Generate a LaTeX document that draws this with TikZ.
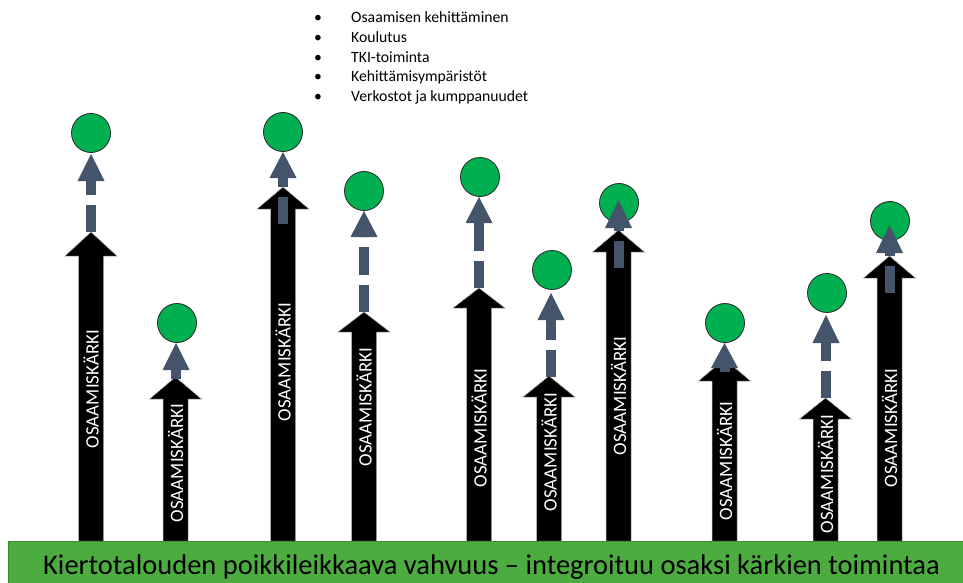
\documentclass[tikz,border=0pt]{standalone}
\usepackage{fontspec}
\setmainfont{Carlito}
\definecolor{barGreen}{RGB}{76,172,64}
\definecolor{barEdge}{RGB}{60,140,50}
\definecolor{dotGreen}{RGB}{0,176,80}
\definecolor{slateArrow}{RGB}{68,84,106}
\tikzset{
  karki/.style={rotate=90, text=white, inner sep=0pt, font=\fontsize{18.9}{20}\selectfont},
  dotnode/.style={circle, fill=dotGreen, draw=black!85, line width=0.8pt, minimum size=39pt, inner sep=0pt},
  blackarrow/.style={fill=black, draw=gray!60, line width=0.5pt},
  slateshaft/.style={draw=slateArrow, line width=10pt, dash pattern=on 27.5pt off 10pt},
  slatehead/.style={fill=slateArrow},
  bullettext/.style={anchor=base west, inner sep=0pt, font=\fontsize{15.7}{18}\selectfont},
  bulletdot/.style={anchor=base, inner sep=0pt, font=\fontsize{15.7}{18}\selectfont},
}
% name, cx, tip y, head base y, label centre y
\newcommand\mkBlackArrow[5]{%
  \path[blackarrow] (#2-12.5,541) -- (#2-12.5,#4) -- (#2-26,#4) -- (#2,#3) -- (#2+26,#4) -- (#2+12.5,#4) -- (#2+12.5,541) -- cycle;
  \coordinate (#1tip) at (#2,#3);
  \node[karki] (#1lbl) at (#2,#5) {OSAAMISKÄRKI};
}
% cx, tip y, head base y, shaft bottom y
\newcommand\mkSlateArrow[4]{%
  \path[slateshaft] (#1,#4) -- (#1,#3);
  \path[slatehead] (#1-13.5,#3) -- (#1,#2) -- (#1+13.5,#3) -- cycle;
}
\begin{document}
\begin{tikzpicture}[x=1pt,y=-1pt]
\useasboundingbox (0,0) rectangle (963,583);
\fill[white] (0,0) rectangle (963,583);

% black arrows
\mkBlackArrow{a1}{91}{232}{256}{389}
\mkBlackArrow{a2}{175.5}{377}{399}{463}
\mkBlackArrow{a3}{283}{187}{209}{362}
\mkBlackArrow{a4}{364}{312}{332}{407}
\mkBlackArrow{a5}{479}{288}{308}{428}
\mkBlackArrow{a6}{549}{376}{397}{452}
\mkBlackArrow{a7}{618.5}{230}{252}{396}
\mkBlackArrow{a8}{724.5}{359}{381}{461}
\mkBlackArrow{a9}{825.5}{398}{419}{474}
\mkBlackArrow{a10}{889.5}{256}{278}{428}

% green dots
\node[dotnode] (c1) at (91,133) {};
\node[dotnode] (c2) at (177,323) {};
\node[dotnode] (c3) at (283,132) {};
\node[dotnode] (c4) at (364,191) {};
\node[dotnode] (c5) at (480,177) {};
\node[dotnode] (c6) at (552,270) {};
\node[dotnode] (c7) at (619,203) {};
\node[dotnode] (c8) at (725,323) {};
\node[dotnode] (c9) at (827,293) {};
\node[dotnode] (c10) at (890,221) {};

% slate arrows
\mkSlateArrow{91}{154}{181}{232}
\mkSlateArrow{176}{343}{370}{379}
\mkSlateArrow{283}{152}{178}{224}
\mkSlateArrow{364}{211}{237}{312}
\mkSlateArrow{479}{197}{223}{288}
\mkSlateArrow{551}{293}{320}{377}
\mkSlateArrow{618.5}{200}{228}{268}
\mkSlateArrow{724.5}{343}{368}{372}
\mkSlateArrow{826}{315}{343}{398}
\mkSlateArrow{889.5}{225}{253}{293}

% bottom bar
\path[fill=barGreen, draw=barEdge, line width=0.6pt] (8,541.5) rectangle (966,590);
\node[anchor=base, inner sep=0pt, font=\fontsize{28.5}{30}\selectfont] (bartext) at (491.5,574)
  {Kiertotalouden poikkileikkaava vahvuus – integroituu osaksi kärkien toimintaa};

% bullet list
\node[bulletdot] (b1) at (318,23) {•};
\node[bullettext] (t1) at (351,23) {Osaamisen kehittäminen};
\node[bulletdot] (b2) at (318,42.6) {•};
\node[bullettext] (t2) at (351,42.6) {Koulutus};
\node[bulletdot] (b3) at (318,62.2) {•};
\node[bullettext] (t3) at (351,62.2) {TKI-toiminta};
\node[bulletdot] (b4) at (318,81.8) {•};
\node[bullettext] (t4) at (351,81.8) {Kehittämisympäristöt};
\node[bulletdot] (b5) at (318,101.4) {•};
\node[bullettext] (t5) at (351,101.4) {Verkostot ja kumppanuudet};
\end{tikzpicture}
\end{document}
